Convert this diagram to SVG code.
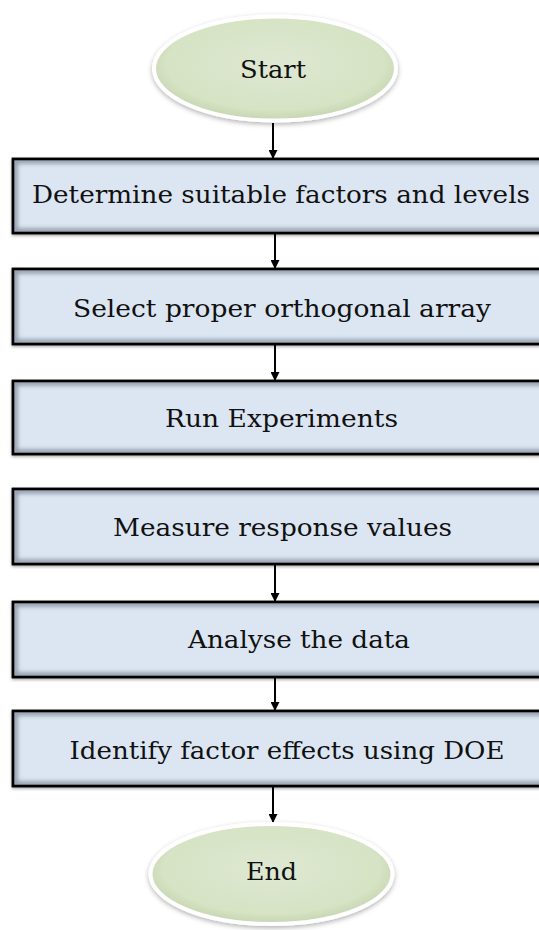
<svg xmlns="http://www.w3.org/2000/svg" width="539" height="930" viewBox="0 0 539 930">
<style>
.box{fill:#dce6f2;stroke:#000;stroke-width:2.5}
.inner{fill:none;stroke:#8c97a6;stroke-width:5;filter:url(#blur)}
.lbl{font-family:"DejaVu Serif","Liberation Serif",serif;font-size:24px;fill:#111;text-anchor:middle}
.ell{fill:url(#green);stroke:#fff;stroke-width:4;filter:url(#shadow)}
.conn{stroke:#000;stroke-width:2;fill:none;marker-end:url(#arrow)}
</style>
<defs>
<radialGradient id="green" cx="50%" cy="45%" r="60%">
<stop offset="0" stop-color="#dee8d2"/>
<stop offset="0.75" stop-color="#d6e3c4"/>
<stop offset="1" stop-color="#bccda6"/>
</radialGradient>
<filter id="blur" x="-5%" y="-20%" width="110%" height="140%">
<feGaussianBlur stdDeviation="2.2"/>
</filter>
<filter id="shadow" x="-20%" y="-20%" width="140%" height="150%">
<feDropShadow dx="0" dy="2" stdDeviation="2.5" flood-color="#000" flood-opacity="0.3"/>
</filter>
<filter id="bshadow" x="-5%" y="-20%" width="110%" height="150%">
<feDropShadow dx="0" dy="1.5" stdDeviation="1.5" flood-color="#000" flood-opacity="0.35"/>
</filter>
<marker id="arrow" viewBox="0 0 10 10" refX="10" refY="5" markerWidth="4.5" markerHeight="4.5" orient="auto" markerUnits="strokeWidth">
<path d="M0,0 L10,5 L0,10 z" fill="#000"/>
</marker>
<clipPath id="c1"><rect x="13" y="159" width="540" height="74"/></clipPath>
<clipPath id="c2"><rect x="13" y="269" width="540" height="75"/></clipPath>
<clipPath id="c3"><rect x="13" y="381" width="540" height="73"/></clipPath>
<clipPath id="c4"><rect x="13" y="489" width="540" height="75"/></clipPath>
<clipPath id="c5"><rect x="13" y="602" width="540" height="75"/></clipPath>
<clipPath id="c6"><rect x="13" y="711" width="540" height="75"/></clipPath>
</defs>
<rect width="539" height="930" fill="#fff"/>
<g id="connectors">
<line class="conn" x1="273" y1="123" x2="273" y2="159"/>
<line class="conn" x1="275" y1="233" x2="275" y2="269"/>
<line class="conn" x1="275" y1="344" x2="275" y2="381"/>
<line class="conn" x1="275" y1="564" x2="275" y2="602"/>
<line class="conn" x1="275" y1="677" x2="275" y2="711"/>
<line class="conn" x1="273" y1="786" x2="273" y2="823"/>
</g>
<g id="start">
<ellipse class="ell" cx="275" cy="68.5" rx="121" ry="52"/>
<text class="lbl" x="273" y="78" textLength="66" lengthAdjust="spacingAndGlyphs">Start</text>
</g>
<g id="n1">
<rect class="box" x="13" y="159" width="540" height="74" filter="url(#bshadow)"/>
<rect class="inner" x="15" y="161" width="536" height="70" clip-path="url(#c1)"/>
<rect x="13" y="159" width="540" height="74" fill="none" stroke="#000" stroke-width="2.5"/>
<text class="lbl" x="281" y="203" textLength="498" lengthAdjust="spacingAndGlyphs">Determine suitable factors and levels</text>
</g>
<g id="n2">
<rect class="box" x="13" y="269" width="540" height="75" filter="url(#bshadow)"/>
<rect class="inner" x="15" y="271" width="536" height="71" clip-path="url(#c2)"/>
<rect x="13" y="269" width="540" height="75" fill="none" stroke="#000" stroke-width="2.5"/>
<text class="lbl" x="282" y="317" textLength="418" lengthAdjust="spacingAndGlyphs">Select proper orthogonal array</text>
</g>
<g id="n3">
<rect class="box" x="13" y="381" width="540" height="73" filter="url(#bshadow)"/>
<rect class="inner" x="15" y="383" width="536" height="69" clip-path="url(#c3)"/>
<rect x="13" y="381" width="540" height="73" fill="none" stroke="#000" stroke-width="2.5"/>
<text class="lbl" x="281.5" y="427" textLength="233" lengthAdjust="spacingAndGlyphs">Run Experiments</text>
</g>
<g id="n4">
<rect class="box" x="13" y="489" width="540" height="75" filter="url(#bshadow)"/>
<rect class="inner" x="15" y="491" width="536" height="71" clip-path="url(#c4)"/>
<rect x="13" y="489" width="540" height="75" fill="none" stroke="#000" stroke-width="2.5"/>
<text class="lbl" x="282.5" y="536" textLength="339" lengthAdjust="spacingAndGlyphs">Measure response values</text>
</g>
<g id="n5">
<rect class="box" x="13" y="602" width="540" height="75" filter="url(#bshadow)"/>
<rect class="inner" x="15" y="604" width="536" height="71" clip-path="url(#c5)"/>
<rect x="13" y="602" width="540" height="75" fill="none" stroke="#000" stroke-width="2.5"/>
<text class="lbl" x="299" y="648" textLength="222" lengthAdjust="spacingAndGlyphs">Analyse the data</text>
</g>
<g id="n6">
<rect class="box" x="13" y="711" width="540" height="75" filter="url(#bshadow)"/>
<rect class="inner" x="15" y="713" width="536" height="71" clip-path="url(#c6)"/>
<rect x="13" y="711" width="540" height="75" fill="none" stroke="#000" stroke-width="2.5"/>
<text class="lbl" x="287" y="759" textLength="435" lengthAdjust="spacingAndGlyphs">Identify factor effects using DOE</text>
</g>
<g id="end">
<ellipse class="ell" cx="271.5" cy="874" rx="121" ry="50"/>
<text class="lbl" x="271.5" y="880" textLength="51" lengthAdjust="spacingAndGlyphs">End</text>
</g>
</svg>
